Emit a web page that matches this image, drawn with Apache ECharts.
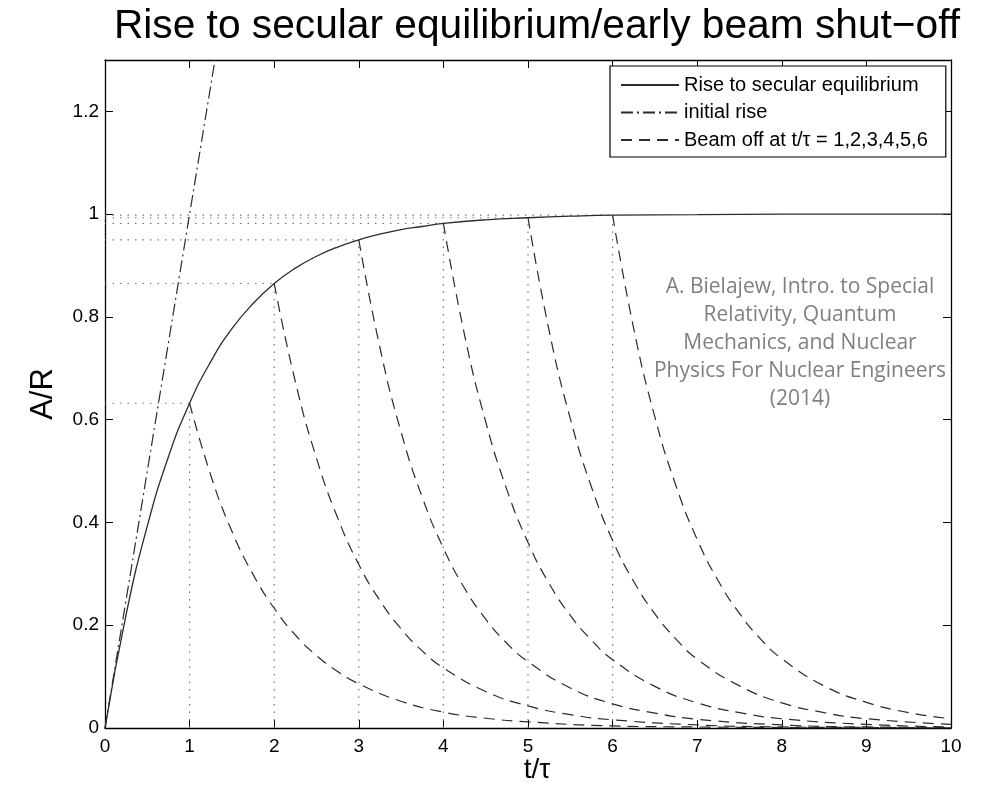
<!DOCTYPE html>
<html>
<head>
<meta charset="utf-8">
<title>Rise to secular equilibrium</title>
<script src="https://cdn.jsdelivr.net/npm/echarts@6/dist/echarts.min.js"></script>
<style>
  html, body { margin: 0; padding: 0; background: #fff; overflow: hidden; }
  #chart { width: 987px; height: 785px; }
</style>
</head>
<body>
<div id="chart"></div>
<script>
// Rise to secular equilibrium, A/R versus t/tau
const riseT = [0, 0.25, 0.5, 0.75, 1, 1.25, 1.5, 1.75, 2, 2.25, 2.5, 2.75, 3, 3.25, 3.5, 3.75, 4, 4.5, 5, 5.5, 6, 7, 8, 10];
const riseA = [0, 0.221, 0.393, 0.528, 0.632, 0.713, 0.777, 0.826, 0.865, 0.895, 0.918, 0.936, 0.950, 0.961, 0.970, 0.976, 0.982, 0.989, 0.993, 0.996, 0.998, 0.999, 1.0, 1.0];

// Initial rise (slope of the curve at t = 0)
const initialT = [0, 1.3];
const initialA = [0, 1.3];

// Beam switched off at t/tau = 1..6, activity decays from the level reached
const beamOffTimes = [1, 2, 3, 4, 5, 6];
const peakValues = [0.632, 0.865, 0.950, 0.982, 0.993, 0.998];
const decayOffsets = [0, 0.25, 0.5, 0.75, 1, 1.25, 1.5, 1.75, 2, 2.5, 3, 3.5, 4, 5, 6, 7, 8, 9];
const decayValues = [
  [0.632, 0.492, 0.383, 0.299, 0.233, 0.181, 0.141, 0.110, 0.086, 0.052, 0.031, 0.019, 0.012, 0.004, 0.002, 0.001, 0.0002, 0.0001],
  [0.865, 0.674, 0.525, 0.409, 0.318, 0.248, 0.193, 0.150, 0.117, 0.071, 0.043, 0.026, 0.016, 0.006, 0.002, 0.001, 0.0003],
  [0.950, 0.740, 0.576, 0.449, 0.350, 0.272, 0.212, 0.165, 0.129, 0.078, 0.047, 0.029, 0.017, 0.006, 0.002, 0.001],
  [0.982, 0.765, 0.596, 0.464, 0.361, 0.281, 0.219, 0.171, 0.133, 0.081, 0.049, 0.030, 0.018, 0.007, 0.002],
  [0.993, 0.773, 0.602, 0.469, 0.365, 0.285, 0.222, 0.173, 0.134, 0.082, 0.049, 0.030, 0.018, 0.007],
  [0.998, 0.777, 0.605, 0.471, 0.367, 0.286, 0.223, 0.173, 0.135, 0.082, 0.050, 0.030, 0.018]
];

const xTicks = [0, 1, 2, 3, 4, 5, 6, 7, 8, 9, 10];
const yTicks = [0, 0.2, 0.4, 0.6, 0.8, 1, 1.2];

const NAME_RISE = 'Rise to secular equilibrium';
const NAME_INITIAL = 'initial rise';
const NAME_BEAM = 'Beam off at t/\u03c4 = 1,2,3,4,5,6';

const FONT = '"Liberation Sans", Arial, sans-serif';
const INK = '#2b2b2b';

const series = [];

// dotted guides from the axes to each shut-off point
beamOffTimes.forEach((tOff, i) => {
  const level = peakValues[i];
  [[[0, level], [tOff, level]], [[tOff, 0], [tOff, level]]].forEach(seg => {
    series.push({
      name: 'guide', type: 'line', data: seg, symbol: 'none', silent: true,
      lineStyle: { color: '#777', width: 1.2, type: [1.5, 6] }, z: 1
    });
  });
});

series.push({
  name: NAME_RISE, type: 'line', symbol: 'none', smooth: true,
  data: riseT.map((t, i) => [t, riseA[i]]),
  lineStyle: { color: INK, width: 1.3, type: 'solid' }, itemStyle: { color: INK }, z: 3
});

series.push({
  name: NAME_INITIAL, type: 'line', symbol: 'none',
  data: initialT.map((t, i) => [t, initialA[i]]),
  lineStyle: { color: INK, width: 1.2, type: [12, 4, 2, 4] }, itemStyle: { color: INK }, z: 3
});

beamOffTimes.forEach((tOff, i) => {
  const pts = [];
  decayValues[i].forEach((v, k) => {
    const t = tOff + decayOffsets[k];
    if (t <= 10) pts.push([t, v]);
  });
  series.push({
    name: NAME_BEAM, type: 'line', symbol: 'none', smooth: true,
    data: pts,
    lineStyle: { color: INK, width: 1.2, type: [11, 7] }, itemStyle: { color: INK }, z: 3
  });
});

const axisLine = { show: true, onZero: false, lineStyle: { color: '#000', width: 1.3 } };
const axisTick = { show: true, inside: true, length: 8, lineStyle: { color: '#000', width: 1 } };

const option = {
  animation: false,
  backgroundColor: '#fff',
  title: {
    text: 'Rise to secular equilibrium/early beam shut\u2212off',
    left: 532, top: 1, textAlign: 'center',
    textStyle: { fontFamily: FONT, fontSize: 40.7, fontWeight: 'normal', color: '#000' }
  },
  grid: { left: 105, right: 36, top: 60, bottom: 57, containLabel: false, outerBoundsMode: 'none' },
  legend: {
    data: [NAME_RISE, NAME_INITIAL, NAME_BEAM],
    orient: 'vertical', left: 610, top: 66,
    padding: [9, 18, 7, 10], itemGap: 7.5, itemWidth: 58, itemHeight: 14, itemTextGap: 12,
    backgroundColor: '#fff', borderColor: '#000', borderWidth: 1.2, borderRadius: 0,
    selectedMode: false,
    itemStyle: { opacity: 0 },
    textStyle: { fontFamily: FONT, fontSize: 20, color: '#000', lineHeight: 20 },
    z: 10
  },
  xAxis: [
    {
      type: 'value', min: 0, max: 10, interval: 1, position: 'bottom',
      axisLine, axisTick, splitLine: { show: false },
      axisLabel: { fontFamily: FONT, fontSize: 19, color: '#000', margin: 9 }
    },
    {
      type: 'value', min: 0, max: 10, interval: 1, position: 'top',
      axisLine, axisTick, splitLine: { show: false }, axisLabel: { show: false }
    }
  ],
  yAxis: [
    {
      type: 'value', min: 0, max: 1.3, interval: 0.2, position: 'left',
      axisLine, axisTick, splitLine: { show: false },
      axisLabel: { fontFamily: FONT, fontSize: 19, color: '#000', margin: 6, showMaxLabel: false,
        formatter: v => yTicks.some(t => Math.abs(t - v) < 1e-9) ? String(Math.round(v * 10) / 10) : '' },
      name: 'A/R', nameLocation: 'middle', nameGap: 46, nameRotate: 90,
      nameTextStyle: { fontFamily: FONT, fontSize: 31, color: '#000' }
    },
    {
      type: 'value', min: 0, max: 1.3, interval: 0.2, position: 'right',
      axisLine, axisTick, splitLine: { show: false }, axisLabel: { show: false }
    }
  ],
  graphic: [
    {
      type: 'text', x: 537, y: 770, z: 20,
      style: {
        text: 't/\u03c4', fontFamily: FONT, fontSize: 28, fill: '#000',
        align: 'center', verticalAlign: 'middle'
      }
    },
    {
      type: 'text', x: 800, y: 273, z: 20,
      style: {
        text: 'A. Bielajew, Intro. to Special\nRelativity, Quantum\nMechanics, and Nuclear\nPhysics For Nuclear Engineers\n(2014)',
        fontFamily: '"Open Sans", "Noto Sans", sans-serif', fontSize: 21, lineHeight: 28,
        fill: '#808080', align: 'center', verticalAlign: 'top'
      }
    }
  ],
  series
};

const chart = echarts.init(document.getElementById('chart'), null, { renderer: 'canvas' });
chart.setOption(option);
</script>
</body>
</html>
